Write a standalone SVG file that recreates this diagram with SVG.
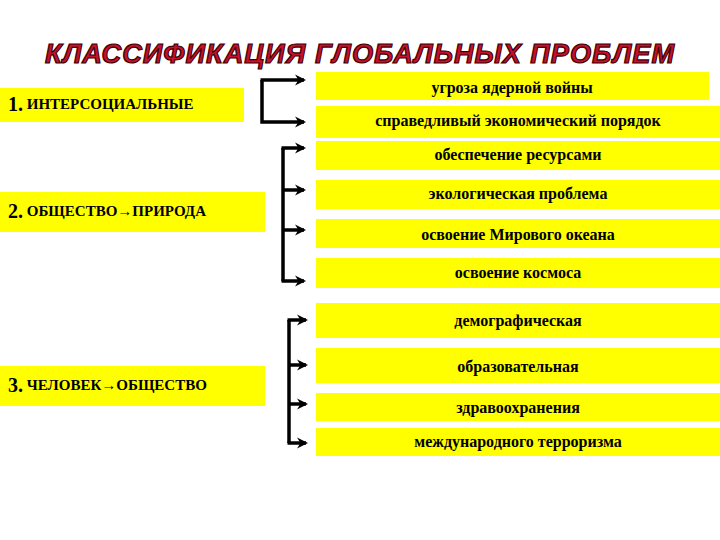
<svg xmlns="http://www.w3.org/2000/svg" width="720" height="540" viewBox="0 0 720 540">
<defs>
<marker id="ah" viewBox="0 0 10 10" refX="8" refY="5" markerWidth="3.2" markerHeight="3.2" orient="auto"><path d="M0,0 L10,5 L0,10 L3,5 Z" fill="#000"/></marker>
<style>
.box{fill:#ffff00}
.t{font-family:"Liberation Serif",serif;font-weight:bold;font-size:16px;fill:#000;text-anchor:middle;dominant-baseline:middle}
.l{font-family:"Liberation Serif",serif;font-weight:bold;font-size:15px;fill:#000;dominant-baseline:middle}
.l .n{font-size:20px}
.c{fill:none;stroke:#000;stroke-width:3.5}
.title{font-family:"Liberation Sans",sans-serif;font-weight:bold;font-style:italic;font-size:27px;fill:#c8102e;stroke:#3a0000;stroke-width:1.2;text-anchor:middle;letter-spacing:1px}
</style>
</defs>
<rect width="720" height="540" fill="#fff"/>
<text class="title" x="360" y="63" textLength="630" lengthAdjust="spacingAndGlyphs">КЛАССИФИКАЦИЯ ГЛОБАЛЬНЫХ ПРОБЛЕМ</text>
<g id="left1"><rect class="box" x="0" y="88" width="244" height="34"/><text class="l" x="8" y="106"><tspan class="n">1.</tspan> ИНТЕРСОЦИАЛЬНЫЕ</text></g>
<g id="left2"><rect class="box" x="0" y="192" width="265" height="40"/><text class="l" x="8" y="213"><tspan class="n">2.</tspan> ОБЩЕСТВО→ПРИРОДА</text></g>
<g id="left3"><rect class="box" x="0" y="366" width="265" height="40"/><text class="l" x="8" y="387"><tspan class="n">3.</tspan> ЧЕЛОВЕК→ОБЩЕСТВО</text></g>
<g id="r1"><rect class="box" x="316" y="72" width="393" height="28"/><text class="t" x="512" y="89">угроза ядерной войны</text></g>
<g id="r2"><rect class="box" x="316" y="106" width="404" height="32"/><text class="t" x="518" y="122">справедливый экономический порядок</text></g>
<g id="r3"><rect class="box" x="316" y="141" width="404" height="29"/><text class="t" x="518" y="156">обеспечение ресурсами</text></g>
<g id="r4"><rect class="box" x="316" y="180" width="404" height="29"/><text class="t" x="518" y="195">экологическая проблема</text></g>
<g id="r5"><rect class="box" x="316" y="219" width="404" height="29"/><text class="t" x="518" y="236">освоение Мирового океана</text></g>
<g id="r6"><rect class="box" x="316" y="258" width="404" height="30"/><text class="t" x="518" y="274">освоение космоса</text></g>
<g id="r7"><rect class="box" x="316" y="303" width="404" height="35"/><text class="t" x="518" y="322">демографическая</text></g>
<g id="r8"><rect class="box" x="316" y="348" width="404" height="35"/><text class="t" x="518" y="368">образовательная</text></g>
<g id="r9"><rect class="box" x="316" y="393" width="404" height="28"/><text class="t" x="518" y="409">здравоохранения</text></g>
<g id="r10"><rect class="box" x="316" y="428" width="404" height="28"/><text class="t" x="518" y="443">международного терроризма</text></g>
<g id="connectors">
<path class="c" d="M262,80 V122 H304" marker-end="url(#ah)"/>
<path class="c" d="M260.5,80 H304" marker-end="url(#ah)"/>
<path class="c" d="M283,148 V281"/>
<path class="c" d="M281.5,148 H304" marker-end="url(#ah)"/>
<path class="c" d="M283,190 H304" marker-end="url(#ah)"/>
<path class="c" d="M283,230 H304" marker-end="url(#ah)"/>
<path class="c" d="M281.5,281 H304" marker-end="url(#ah)"/>
<path class="c" d="M289,320 V443"/>
<path class="c" d="M287.5,320 H306" marker-end="url(#ah)"/>
<path class="c" d="M289,365 H306" marker-end="url(#ah)"/>
<path class="c" d="M289,404 H306" marker-end="url(#ah)"/>
<path class="c" d="M287.5,443 H306" marker-end="url(#ah)"/>
</g>
</svg>
